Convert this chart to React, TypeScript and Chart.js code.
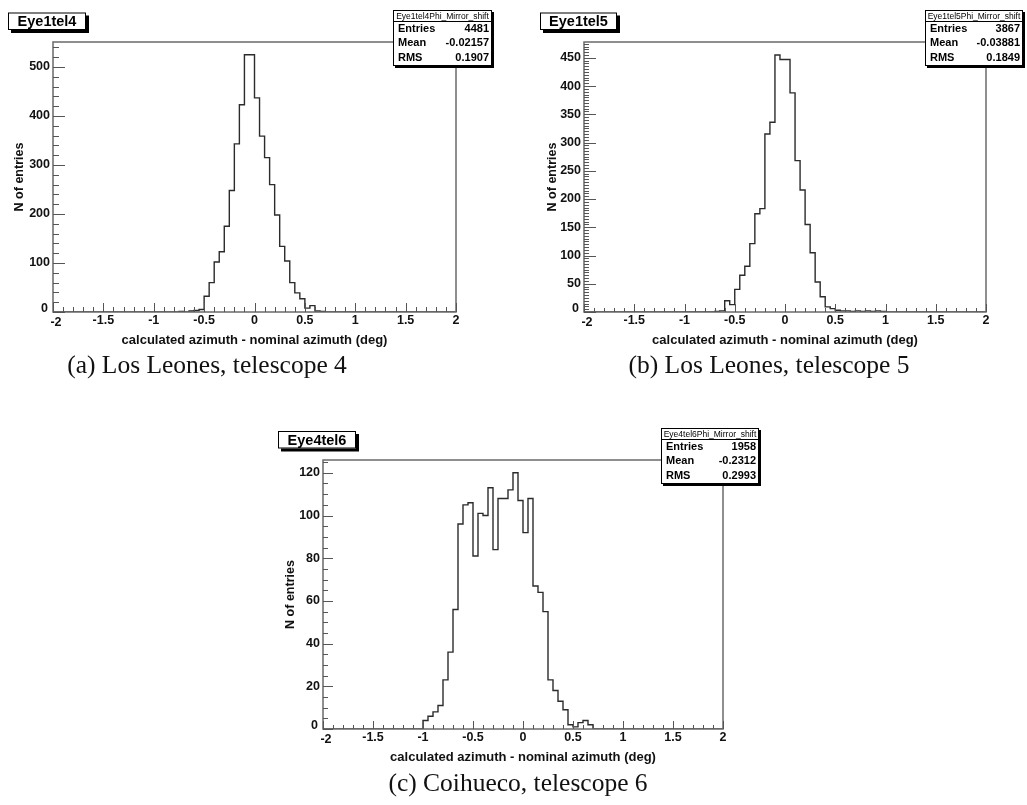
import React, { useEffect, useRef } from 'react';
import { Chart, registerables } from 'chart.js';

Chart.register(...registerables);

// ---------- DATA ----------
const BIN_WIDTH = 0.05;
const X_MIN = -2;
const X_MAX = 2;
const xTickLabels = ['-2', '-1.5', '-1', '-0.5', '0', '0.5', '1', '1.5', '2'];

// Eye1tel4 (Los Leones, telescope 4): counts per 0.05 deg bin, first bin starts at -0.75
const startA = -0.75;
const countsA = [1, 0, 2, 3, 5, 32, 60, 102, 123, 175, 248, 343, 423, 525, 525, 437, 359, 315, 260, 198, 134, 104, 60, 39, 27, 8, 13, 2, 1];
const yTicksA = ['0', '100', '200', '300', '400', '500'];
const statsA = ['4481', '-0.02157', '0.1907'];

// Eye1tel5 (Los Leones, telescope 5), first bin starts at -0.7
const startB = -0.7;
const countsB = [1, 2, 20, 13, 40, 65, 81, 121, 174, 183, 315, 336, 455, 447, 447, 388, 268, 216, 155, 105, 53, 27, 9, 6, 3, 2, 2, 1, 2, 1, 2, 1, 2, 1];
const yTicksB = ['0', '50', '100', '150', '200', '250', '300', '350', '400', '450'];
const statsB = ['3867', '-0.03881', '0.1849'];

// Eye4tel6 (Coihueco, telescope 6), first bin starts at -1.0
const startC = -1.0;
const countsC = [4, 6, 8, 11, 23, 36, 56, 96, 105, 106, 81, 101, 100, 113, 84, 108, 108, 112, 120, 107, 92, 108, 67, 64, 55, 23, 18, 13, 9, 2, 1, 3, 4, 2];
const yTicksC = ['0', '20', '40', '60', '80', '100', '120'];
const statsC = ['1958', '-0.2312', '0.2993'];

const statLabels = ['Entries', 'Mean', 'RMS'];
const xTitle = 'calculated azimuth - nominal azimuth (deg)';
const yTitle = 'N of entries';

// ---------- LAYOUT ----------
const W = 1027;
const H = 805;

type Box = { x: number; y: number; w: number; h: number };
type PanelCfg = {
  start: number;
  counts: number[];
  yTicks: string[];
  stats: string[];
  name: string;
  histName: string;
  caption: string;
  yMax: number;
  yMajor: number;
  yMinor: number;
  frame: { l: number; t: number; r: number; b: number };
  titleBox: Box;
  statsBox: Box;
  captionX: number;
  captionY: number;
  yTitleX: number;
  tick: { xMaj: number; xMin: number; yMaj: number; yMin: number };
};

const panels: PanelCfg[] = [
  {
    start: startA, counts: countsA, yTicks: yTicksA, stats: statsA,
    name: 'Eye1tel4', histName: 'Eye1tel4Phi_Mirror_shift', caption: '(a) Los Leones, telescope 4',
    yMax: 551, yMajor: 100, yMinor: 20,
    frame: { l: 53, t: 42, r: 456, b: 312 },
    titleBox: { x: 8, y: 12.5, w: 78, h: 17.5 },
    statsBox: { x: 393, y: 10, w: 99, h: 56 },
    captionX: 207, captionY: 366, yTitleX: 20,
    tick: { xMaj: 9, xMin: 5, yMaj: 12, yMin: 6 },
  },
  {
    start: startB, counts: countsB, yTicks: yTicksB, stats: statsB,
    name: 'Eye1tel5', histName: 'Eye1tel5Phi_Mirror_shift', caption: '(b) Los Leones, telescope 5',
    yMax: 478, yMajor: 50, yMinor: 5,
    frame: { l: 584, t: 42, r: 986, b: 312 },
    titleBox: { x: 540, y: 12.5, w: 77, h: 17.5 },
    statsBox: { x: 925, y: 10, w: 98, h: 56 },
    captionX: 769, captionY: 366, yTitleX: 553,
    tick: { xMaj: 8, xMin: 4, yMaj: 12, yMin: 5 },
  },
  {
    start: startC, counts: countsC, yTicks: yTicksC, stats: statsC,
    name: 'Eye4tel6', histName: 'Eye4tel6Phi_Mirror_shift', caption: '(c) Coihueco, telescope 6',
    yMax: 126, yMajor: 20, yMinor: 5,
    frame: { l: 323, t: 460, r: 723, b: 729 },
    titleBox: { x: 278, y: 431, w: 78, h: 17.5 },
    statsBox: { x: 661, y: 428, w: 98, h: 56 },
    captionX: 518, captionY: 784, yTitleX: 291,
    tick: { xMaj: 8, xMin: 4, yMaj: 10, yMin: 5 },
  },
];

function buildSteps(start: number, counts: number[]) {
  const pts: { x: number; y: number }[] = [];
  const nBins = Math.round((X_MAX - X_MIN) / BIN_WIDTH);
  for (let i = 0; i < nBins; i++) {
    const lo = X_MIN + i * BIN_WIDTH;
    const k = Math.round((lo - start) / BIN_WIDTH);
    const v = k >= 0 && k < counts.length ? counts[k] : 0;
    pts.push({ x: lo, y: v });
  }
  pts.push({ x: X_MAX, y: 0 });
  return pts;
}

const SANS = '"Liberation Sans", Arial, Helvetica, sans-serif';
const SERIF = '"Liberation Serif", "Times New Roman", serif';

const rootPlugin = {
  id: 'rootFrame',
  afterDraw(chart: any) {
    const p: PanelCfg = chart.options.plugins.rootFrame.panel;
    const { ctx, chartArea: ca, scales } = chart;
    const xs = scales.x;
    const ys = scales.y;
    ctx.save();

    // frame
    ctx.strokeStyle = '#6a6a6a';
    ctx.lineWidth = 1.5;
    ctx.strokeRect(ca.left, ca.top, ca.right - ca.left, ca.bottom - ca.top);

    // ticks (pointing inwards, ROOT style)
    ctx.lineWidth = 1;
    ctx.strokeStyle = '#555';
    ctx.beginPath();
    for (let i = -20; i <= 20; i++) {
      const px = Math.round(xs.getPixelForValue(i / 10)) + 0.5;
      const len = i % 5 === 0 ? p.tick.xMaj : p.tick.xMin;
      ctx.moveTo(px, ca.bottom);
      ctx.lineTo(px, ca.bottom - len);
    }
    for (let i = 0; i * p.yMinor <= p.yMax; i++) {
      const v = i * p.yMinor;
      const py = Math.round(ys.getPixelForValue(v)) + 0.5;
      const len = v % p.yMajor === 0 ? p.tick.yMaj : p.tick.yMin;
      ctx.moveTo(ca.left, py);
      ctx.lineTo(ca.left + len, py);
    }
    ctx.stroke();

    // tick labels
    ctx.fillStyle = '#111';
    ctx.font = `bold 12.5px ${SANS}`;
    ctx.textAlign = 'center';
    ctx.textBaseline = 'middle';
    xTickLabels.forEach((lab) => {
      const v = parseFloat(lab);
      let px = xs.getPixelForValue(v);
      let dy = 0;
      if (v === X_MIN) { px += 3; dy = 2; }
      ctx.fillText(lab, px, ca.bottom + 9 + dy);
    });
    ctx.textAlign = 'right';
    p.yTicks.forEach((lab) => {
      const v = parseFloat(lab);
      let py = ys.getPixelForValue(v);
      let dx = 0;
      if (v === 0) { py -= 3; dx = -2; }
      ctx.fillText(lab, ca.left - 3 + dx, py);
    });

    // axis titles
    ctx.font = `bold 13px ${SANS}`;
    ctx.textAlign = 'center';
    ctx.fillText(xTitle, (ca.left + ca.right) / 2, ca.bottom + 28);
    ctx.save();
    ctx.translate(p.yTitleX, (ca.top + ca.bottom) / 2);
    ctx.rotate(-Math.PI / 2);
    ctx.font = `bold 12.5px ${SANS}`;
    ctx.fillText(yTitle, 0, 0);
    ctx.restore();

    // title box
    const tb = p.titleBox;
    ctx.fillStyle = '#000';
    ctx.fillRect(tb.x + 3, tb.y + 3, tb.w, tb.h);
    ctx.fillStyle = '#fff';
    ctx.fillRect(tb.x, tb.y, tb.w, tb.h);
    ctx.strokeStyle = '#000';
    ctx.lineWidth = 1;
    ctx.strokeRect(tb.x + 0.5, tb.y + 0.5, tb.w - 1, tb.h - 1);
    ctx.fillStyle = '#000';
    ctx.font = `bold 14.5px ${SANS}`;
    ctx.textAlign = 'center';
    ctx.fillText(p.name, tb.x + tb.w / 2, tb.y + tb.h / 2 + 1);

    // stats box
    const sb = p.statsBox;
    ctx.fillStyle = '#000';
    ctx.fillRect(sb.x + 2, sb.y + 2, sb.w, sb.h);
    ctx.fillStyle = '#fff';
    ctx.fillRect(sb.x, sb.y, sb.w, sb.h);
    ctx.strokeStyle = '#000';
    ctx.strokeRect(sb.x + 0.5, sb.y + 0.5, sb.w - 1, sb.h - 1);
    ctx.beginPath();
    ctx.moveTo(sb.x, sb.y + 11.5);
    ctx.lineTo(sb.x + sb.w, sb.y + 11.5);
    ctx.stroke();
    ctx.fillStyle = '#000';
    ctx.font = `8.5px ${SANS}`;
    ctx.textAlign = 'center';
    ctx.fillText(p.histName, sb.x + sb.w / 2, sb.y + 6.5);
    ctx.font = `bold 11px ${SANS}`;
    statLabels.forEach((lab, k) => {
      const cy = sb.y + 11 + 7.5 + 14.8 * k;
      ctx.textAlign = 'left';
      ctx.fillText(lab, sb.x + 5, cy);
      ctx.textAlign = 'right';
      ctx.fillText(p.stats[k], sb.x + sb.w - 3, cy);
    });

    // caption
    ctx.font = `25.5px ${SERIF}`;
    ctx.textAlign = 'center';
    ctx.fillStyle = '#111';
    ctx.fillText(p.caption, p.captionX, p.captionY);

    ctx.restore();
  },
};

function HistPanel({ p }: { p: PanelCfg }) {
  const ref = useRef<HTMLCanvasElement>(null);
  useEffect(() => {
    if (!ref.current) return;
    const chart = new Chart(ref.current, {
      type: 'line',
      data: {
        datasets: [
          {
            data: buildSteps(p.start, p.counts),
            stepped: true,
            borderColor: '#2b2b2b',
            borderWidth: 1.4,
            pointRadius: 0,
            fill: false,
          } as any,
        ],
      },
      options: {
        responsive: false,
        animation: false,
        devicePixelRatio: 1,
        layout: {
          padding: { left: p.frame.l, top: p.frame.t, right: W - p.frame.r, bottom: H - p.frame.b },
        },
        scales: {
          x: { type: 'linear', min: X_MIN, max: X_MAX, display: false },
          y: { type: 'linear', min: 0, max: p.yMax, display: false },
        },
        plugins: {
          legend: { display: false },
          tooltip: { enabled: false },
          rootFrame: { panel: p },
        } as any,
      },
      plugins: [rootPlugin],
    });
    return () => chart.destroy();
  }, [p]);
  return (
    <canvas
      ref={ref}
      width={W}
      height={H}
      style={{ position: 'absolute', left: 0, top: 0, width: W, height: H }}
    />
  );
}

export default function App() {
  return (
    <div style={{ position: 'absolute', left: 0, top: 0, width: W, height: H, background: '#fff', overflow: 'hidden' }}>
      {panels.map((p) => (
        <HistPanel key={p.name} p={p} />
      ))}
    </div>
  );
}
